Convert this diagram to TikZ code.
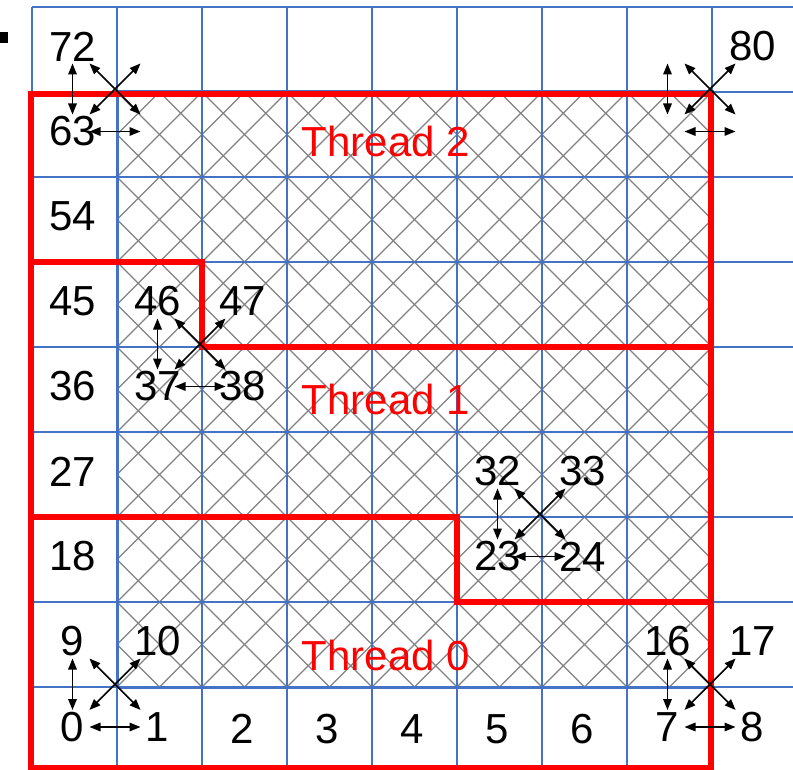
\documentclass[tikz,border=0pt]{standalone}
\usepackage{fontspec}
\setmainfont{Liberation Sans}
\usetikzlibrary{arrows.meta}
\definecolor{gridblue}{RGB}{68,114,196}
\definecolor{hatchgray}{RGB}{130,130,130}
\definecolor{thr}{RGB}{255,0,0}
\begin{document}
\begin{tikzpicture}[x=1pt,y=-1pt,
  num/.style={font=\fontsize{42}{42}\selectfont, inner sep=0pt, text=black},
  thlabel/.style={font=\fontsize{42}{42}\selectfont, inner sep=0pt, text=thr},
  gridline/.style={gridblue, line width=1.6pt},
  hatch/.style={hatchgray, line width=1.4pt},
  border/.style={thr, line width=5.5pt, line join=miter},
  dbl/.style={black, line width=1.6pt, {Triangle[length=11pt,width=8.5pt]}-{Triangle[length=11pt,width=8.5pt]}},
  straight/.style={dbl, shorten <=17pt, shorten >=17pt},
  diag/.style={dbl, shorten <=24pt, shorten >=24pt}]
\useasboundingbox (0,0) rectangle (793,770);
\clip (0,0) rectangle (793,770);
\fill[white] (0,0) rectangle (793,770);
% hatching of the thread area
\begin{scope}
  \clip (117,92) rectangle (712,687);
  \foreach \k in {-14,...,14} \draw[hatch] ({117+\k*42.5},92) -- ++(595,595);
  \foreach \k in {0,...,28} \draw[hatch] ({117+\k*42.5},92) -- ++(-595,595);
\end{scope}
% grid
\foreach \i in {0,...,9} \draw[gridline] ({32+85*\i},7) -- ({32+85*\i},775);
\foreach \j in {0,...,9} \draw[gridline] (32,{7+85*\j}) -- (800,{7+85*\j});
\draw[gridblue, line width=3pt] (117,92) rectangle (712,687);
% red thread borders
\draw[border] (31,94) -- (711,94) -- (711,768) -- (31,768) -- cycle;
\draw[border] (31,262) -- (202,262) -- (202,347) -- (711,347);
\draw[border] (31,517) -- (457,517) -- (457,602) -- (711,602);
% bullet
\fill[black] (0,32) rectangle (8,43);
% thread labels
\node[thlabel] (t2) at (386,141) {Thread 2};
\node[thlabel] (t1) at (386,399.5) {Thread 1};
\node[thlabel] (t0) at (386,655) {Thread 0};
% number labels
\foreach \n/\x/\y in {0/72.5/727,1/157.5/727,2/242.5/729,3/327.5/729,4/412.5/729,5/497.5/729,6/582.5/729,7/667.5/727,8/752.5/727,
  9/72.5/641.5,18/72.5/556.5,27/72.5/471.5,36/72.5/386.5,45/72.5/301.5,54/72.5/216.5,63/72.5/131.5,72/72.5/46.5,
  10/157.5/641.5,16/667.5/641.5,17/752.5/641.5,
  46/157.5/301.5,47/242.5/301.5,37/157.5/386.5,38/242.5/386.5,
  32/497.5/471.5,33/582.5/471.5,23/497.5/556.5,24/582.5/556.5,
  80/752.5/46.5}
  \node[num] (n\n) at (\x,\y) {\n};
\coordinate (p73) at (157.5,46.5);
\coordinate (p64) at (157.5,131.5);
\coordinate (p79) at (667.5,46.5);
\coordinate (p70) at (667.5,131.5);
\coordinate (p71) at (752.5,131.5);
% neighbour arrows: top-left/top-right/bottom-left/bottom-right
\foreach \a/\b/\c/\d in {n72/p73/n63/p64, p79/n80/p70/p71, n46/n47/n37/n38, n32/n33/n23/n24, n9/n10/n0/n1, n16/n17/n7/n8}{
  \draw[straight] (\a.center) -- (\c.center);
  \draw[straight] (\c.center) -- (\d.center);
  \draw[diag] (\a.center) -- (\d.center);
  \draw[diag] (\c.center) -- (\b.center);
}
\end{tikzpicture}
\end{document}
